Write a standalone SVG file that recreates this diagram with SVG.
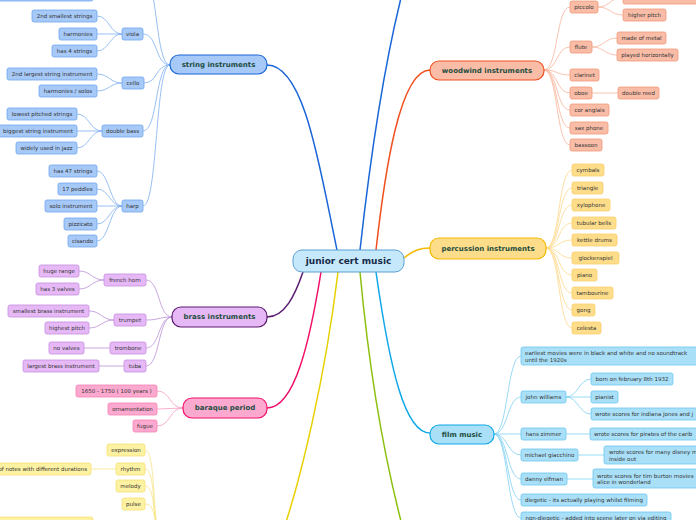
<svg xmlns="http://www.w3.org/2000/svg" width="696" height="520" viewBox="0 0 696 520">
<style>
text{font-family:"DejaVu Sans","Liberation Sans",sans-serif;fill:#333;font-size:5.5px;text-anchor:middle;dominant-baseline:central}
.t{font-size:7px;font-weight:bold;fill:#1e4d3f}
.c{font-size:9px;font-weight:bold;fill:#17294a}
.l{text-anchor:start}
path{fill:none}
.m{stroke-width:1.5}
.s{stroke-width:0.8}
.blu rect{fill:#a6c9f7;stroke:#6fa6ee;stroke-width:0.8}
.pur rect{fill:#e6b9f6;stroke:#c58ee0;stroke-width:0.8}
.pnk rect{fill:#fca9cf;stroke:#f383b5;stroke-width:0.8}
.yel rect{fill:#fdf1a2;stroke:#f6e175;stroke-width:0.8}
.org rect{fill:#f9bca6;stroke:#f09a7a;stroke-width:0.8}
.gld rect{fill:#fddc8a;stroke:#f9cf6c;stroke-width:0.8}
.cyn rect{fill:#a9e0f8;stroke:#6dc8ef;stroke-width:0.8}
</style>
<g id="connectors">
<!-- main -->
<path class="m" stroke="#1a66d8" d="M337,250 C320,170 305,65 267,65"/>
<path class="m" stroke="#1a66d8" d="M360,250 C370,160 385,60 403,-10"/>
<path class="m" stroke="#f05020" d="M376,250 C385,170 400,70 430,70"/>
<path class="m" stroke="#f5b800" d="M404,258 C414,250 420,248 430,248"/>
<path class="m" stroke="#5a1a70" d="M303,272 C295,295 285,317 267,317"/>
<path class="m" stroke="#f0106a" d="M321,272 C310,340 295,408 267,408"/>
<path class="m" stroke="#e8d000" d="M338,272 C325,380 300,480 285,525"/>
<path class="m" stroke="#8cc010" d="M360,272 C370,380 385,460 402,525"/>
<path class="m" stroke="#10a8e8" d="M376,272 C390,370 405,433 430,433"/>
<!-- string -->
<g stroke="#7fb0f0" class="s">
<path d="M170,65 C155,65 158,-25 143,-25"/>
<path d="M170,65 C155,65 158,34 143,34"/>
<path d="M170,65 C155,65 158,83 144,83"/>
<path d="M170,65 C155,65 158,131 143,131"/>
<path d="M170,65 C155,65 158,206 143,206"/>
<path d="M122,34 C110,34 109,16 97,16"/>
<path d="M122,34 L97,34"/>
<path d="M122,34 C110,34 109,51 97,51"/>
<path d="M122,83 C110,83 109,74 97,74"/>
<path d="M122,83 C110,83 109,91 97,91"/>
<path d="M102,131 C90,131 89,114 77,114"/>
<path d="M102,131 L77,131"/>
<path d="M102,131 C90,131 89,148 77,148"/>
<path d="M122,206 C110,206 109,171 97,171"/>
<path d="M122,206 C110,206 109,189 97,189"/>
<path d="M122,206 L97,206"/>
<path d="M122,206 C110,206 109,224 97,224"/>
<path d="M122,206 C110,206 109,241 97,241"/>
</g>
<!-- brass -->
<g stroke="#bb92d6" class="s">
<path d="M172,317 C158,317 160,280 146,280"/>
<path d="M172,317 C158,317 160,320 146,320"/>
<path d="M172,317 C158,317 160,348 146,348"/>
<path d="M172,317 C158,317 160,366 146,366"/>
<path d="M104,280 C92,280 91,271 79,271"/>
<path d="M104,280 C92,280 91,289 79,289"/>
<path d="M114,320 C102,320 101,311 89,311"/>
<path d="M114,320 C102,320 101,328 89,328"/>
<path d="M110,348 L84,348"/>
<path d="M124,366 L99,366"/>
</g>
<!-- baraque -->
<g stroke="#f79cc4" class="s">
<path d="M183,408 C169,408 171,391 157,391"/>
<path d="M183,408 L157,409"/>
<path d="M183,408 C169,408 171,426 157,426"/>
</g>
<!-- yellow -->
<g stroke="#f6e48a" class="s">
<path d="M145,450 C156,450 152,520 160,540"/>
<path d="M145,469 C156,469 152,520 160,540"/>
<path d="M145,486 C156,486 152,520 160,540"/>
<path d="M145,504 C156,504 153,520 160,540"/>
<path d="M116,469 L91,469"/>
</g>
<!-- woodwind -->
<g stroke="#f8b49c" class="s">
<path d="M544,70 C558,70 556,7 570,7"/>
<path d="M544,70 C558,70 556,47 570,47"/>
<path d="M544,70 C558,70 556,75 570,75"/>
<path d="M544,70 C558,70 556,93 570,93"/>
<path d="M544,70 C558,70 556,110 570,110"/>
<path d="M544,70 C558,70 556,128 570,128"/>
<path d="M544,70 C558,70 556,145 570,145"/>
<path d="M598,7 C610,7 611,-3 623,-3"/>
<path d="M598,7 C610,7 611,15 623,15"/>
<path d="M592,47 C604,47 605,38 617,38"/>
<path d="M592,47 C604,47 605,55 617,55"/>
<path d="M592,93 L618,93"/>
</g>
<!-- percussion -->
<g stroke="#fdd88a" class="s">
<path d="M546,248 C560,248 558,170 572,170"/>
<path d="M546,248 C560,248 558,188 572,188"/>
<path d="M546,248 C560,248 558,205 572,205"/>
<path d="M546,248 C560,248 558,223 572,223"/>
<path d="M546,248 C560,248 558,240 572,240"/>
<path d="M546,248 C560,248 558,258 572,258"/>
<path d="M546,248 C560,248 558,275 572,275"/>
<path d="M546,248 C560,248 558,293 572,293"/>
<path d="M546,248 C560,248 558,310 572,310"/>
<path d="M546,248 C560,248 558,328 572,328"/>
</g>
<!-- film -->
<g stroke="#7fd0f2" class="s">
<path d="M494,434 C508,434 507,356 521,356"/>
<path d="M494,434 C508,434 507,397 521,397"/>
<path d="M494,434 L521,434"/>
<path d="M494,434 C508,434 507,455 521,455"/>
<path d="M494,434 C508,434 507,479 521,479"/>
<path d="M494,434 C508,434 507,500 521,500"/>
<path d="M494,434 C508,434 507,518 521,518"/>
<path d="M566,397 C578,397 579,379 591,379"/>
<path d="M566,397 L591,397"/>
<path d="M566,397 C578,397 579,414 591,414"/>
<path d="M566,434 L590,434"/>
<path d="M578,455 L604,455"/>
<path d="M567,479 L593,479"/>
</g>
</g>

<g id="central"><rect x="293" y="250" width="111" height="22" rx="9" fill="#c5e9fa" stroke="#5a9fd4" stroke-width="1"/><text class="c" x="348.5" y="261">junior cert music</text></g>

<!-- string instruments -->
<g id="string-instruments"><rect x="170" y="55" width="97" height="19" rx="9" fill="#a6c9f7" stroke="#1a66d8" stroke-width="1.2"/><text class="t" x="218.5" y="64.5">string instruments</text></g>
<g class="blu">
<g id="s-top"><rect x="-10" y="-12" width="103" height="13" rx="2"/></g>
<g id="viola"><rect x="122" y="28" width="21" height="12" rx="2"/><text x="132.5" y="34">viola</text></g>
<g id="viola-1"><rect x="32" y="10" width="65" height="12" rx="2"/><text x="64.5" y="16">2nd smallest strings</text></g>
<g id="viola-2"><rect x="59" y="28" width="38" height="12" rx="2"/><text x="78" y="34">harmonies</text></g>
<g id="viola-3"><rect x="52" y="45" width="45" height="12" rx="2"/><text x="74.5" y="51">has 4 strings</text></g>
<g id="cello"><rect x="122" y="77" width="22" height="12" rx="2"/><text x="133" y="83">cello</text></g>
<g id="cello-1"><rect x="7" y="68" width="90" height="12" rx="2"/><text x="52" y="74">2nd largest string instrument</text></g>
<g id="cello-2"><rect x="39" y="85" width="58" height="12" rx="2"/><text x="68" y="91">harmonies / solos</text></g>
<g id="double-bass"><rect x="102" y="125" width="41" height="12" rx="2"/><text x="122.5" y="131">double bass</text></g>
<g id="db-1"><rect x="7" y="108" width="70" height="12" rx="2"/><text x="42" y="114">lowest pitched strings</text></g>
<g id="db-2"><rect x="-1" y="125" width="78" height="12" rx="2"/><text x="38" y="131">biggest string instrument</text></g>
<g id="db-3"><rect x="16" y="142" width="61" height="12" rx="2"/><text x="46.5" y="148">widely used in jazz</text></g>
<g id="harp"><rect x="122" y="200" width="21" height="12" rx="2"/><text x="132.5" y="206">harp</text></g>
<g id="harp-1"><rect x="49" y="165" width="48" height="12" rx="2"/><text x="73" y="171">has 47 strings</text></g>
<g id="harp-2"><rect x="58" y="183" width="39" height="12" rx="2"/><text x="77.5" y="189">17 peddles</text></g>
<g id="harp-3"><rect x="45" y="200" width="52" height="12" rx="2"/><text x="71" y="206">solo instrument</text></g>
<g id="harp-4"><rect x="64" y="218" width="33" height="12" rx="2"/><text x="80.5" y="224">pizzicato</text></g>
<g id="harp-5"><rect x="68" y="235" width="29" height="12" rx="2"/><text x="82.5" y="241">cisando</text></g>
</g>

<!-- brass -->
<g id="brass-instruments"><rect x="172" y="307" width="95" height="20" rx="9" fill="#e6b9f6" stroke="#5a1a70" stroke-width="1.2"/><text class="t" x="219.5" y="317">brass instruments</text></g>
<g class="pur">
<g id="french-horn"><rect x="104" y="274" width="42" height="12" rx="2"/><text x="125" y="280">french horn</text></g>
<g id="fh-1"><rect x="39" y="265" width="40" height="12" rx="2"/><text x="59" y="271">huge range</text></g>
<g id="fh-2"><rect x="36" y="283" width="43" height="12" rx="2"/><text x="57.5" y="289">has 3 valves</text></g>
<g id="trumpet"><rect x="114" y="314" width="32" height="12" rx="2"/><text x="130" y="320">trumpet</text></g>
<g id="tr-1"><rect x="8" y="305" width="81" height="12" rx="2"/><text x="48.5" y="311">smallest brass instrument</text></g>
<g id="tr-2"><rect x="45" y="322" width="44" height="12" rx="2"/><text x="67" y="328">highest pitch</text></g>
<g id="trombone"><rect x="110" y="342" width="36" height="12" rx="2"/><text x="128" y="348">trombone</text></g>
<g id="tb-1"><rect x="49" y="342" width="35" height="12" rx="2"/><text x="66.5" y="348">no valves</text></g>
<g id="tuba"><rect x="124" y="360" width="22" height="12" rx="2"/><text x="135" y="366">tuba</text></g>
<g id="tu-1"><rect x="23" y="360" width="76" height="12" rx="2"/><text x="61" y="366">largest brass instrument</text></g>
</g>

<!-- baraque -->
<g id="baraque-period"><rect x="183" y="398" width="84" height="20" rx="9" fill="#fca9cf" stroke="#f0106a" stroke-width="1.2"/><text class="t" x="225" y="408">baraque period</text></g>
<g class="pnk">
<g id="bp-1"><rect x="76" y="385" width="81" height="12" rx="2"/><text x="116.5" y="391">1650 - 1750 ( 100 years )</text></g>
<g id="bp-2"><rect x="108" y="403" width="49" height="12" rx="2"/><text x="132.5" y="409">ornamentation</text></g>
<g id="bp-3"><rect x="133" y="420" width="24" height="12" rx="2"/><text x="145" y="426">fugue</text></g>
</g>

<!-- yellow -->
<g class="yel">
<g id="expression"><rect x="107" y="444" width="38" height="12" rx="2"/><text x="126" y="450">expression</text></g>
<g id="rhythm"><rect x="116" y="463" width="29" height="12" rx="2"/><text x="130.5" y="469">rhythm</text></g>
<g id="rhythm-1"><rect x="-30" y="463" width="121" height="12" rx="2"/><text x="87" y="469" style="text-anchor:end">of notes with different durations</text></g>
<g id="melody"><rect x="116" y="480" width="29" height="12" rx="2"/><text x="130.5" y="486">melody</text></g>
<g id="pulse"><rect x="122" y="498" width="23" height="12" rx="2"/><text x="133.5" y="504">pulse</text></g>
<g id="y-bottom"><rect x="-10" y="517" width="103" height="12" rx="2"/></g>
</g>

<!-- woodwind -->
<g id="woodwind-instruments"><rect x="430" y="61" width="114" height="19" rx="9" fill="#f9bca6" stroke="#f05020" stroke-width="1.2"/><text class="t" x="487" y="70.5">woodwind instruments</text></g>
<g class="org">
<g id="piccolo"><rect x="570" y="1" width="28" height="12" rx="2"/><text x="584" y="7">piccolo</text></g>
<g id="pc-1"><rect x="623" y="-9" width="80" height="13" rx="2"/></g>
<g id="pc-2"><rect x="623" y="9" width="43" height="12" rx="2"/><text x="644.5" y="15">higher pitch</text></g>
<g id="flute"><rect x="570" y="41" width="22" height="12" rx="2"/><text x="581" y="47">flute</text></g>
<g id="fl-1"><rect x="617" y="32" width="49" height="12" rx="2"/><text x="641.5" y="38">made of metal</text></g>
<g id="fl-2"><rect x="617" y="49" width="61" height="12" rx="2"/><text x="647.5" y="55">played horizontally</text></g>
<g id="clarinet"><rect x="570" y="69" width="29" height="12" rx="2"/><text x="584.5" y="75">clarinet</text></g>
<g id="oboe"><rect x="570" y="87" width="22" height="12" rx="2"/><text x="581" y="93">oboe</text></g>
<g id="ob-1"><rect x="618" y="87" width="41" height="12" rx="2"/><text x="638.5" y="93">double reed</text></g>
<g id="cor-anglais"><rect x="570" y="104" width="39" height="12" rx="2"/><text x="589.5" y="110">cor anglais</text></g>
<g id="sax-phone"><rect x="570" y="122" width="38" height="12" rx="2"/><text x="589" y="128">sax phone</text></g>
<g id="bassoon"><rect x="570" y="139" width="32" height="12" rx="2"/><text x="586" y="145">bassoon</text></g>
</g>

<!-- percussion -->
<g id="percussion-instruments"><rect x="430" y="238" width="116" height="21" rx="9" fill="#fddc8a" stroke="#f5b800" stroke-width="1.2"/><text class="t" x="488" y="248.5">percussion instruments</text></g>
<g class="gld">
<g id="cymbals"><rect x="572" y="164" width="32" height="12" rx="2"/><text x="588" y="170">cymbals</text></g>
<g id="triangle"><rect x="572" y="182" width="31" height="12" rx="2"/><text x="587.5" y="188">triangle</text></g>
<g id="xylophone"><rect x="572" y="199" width="38" height="12" rx="2"/><text x="591" y="205">xylophone</text></g>
<g id="tubular-bells"><rect x="572" y="217" width="44" height="12" rx="2"/><text x="594" y="223">tubular bells</text></g>
<g id="kettle-drums"><rect x="572" y="234" width="45" height="12" rx="2"/><text x="594.5" y="240">kettle drums</text></g>
<g id="glockenspiel"><rect x="572" y="252" width="47" height="12" rx="2"/><text x="595.5" y="258">glockenspiel</text></g>
<g id="piano"><rect x="572" y="269" width="25" height="12" rx="2"/><text x="584.5" y="275">piano</text></g>
<g id="tambourine"><rect x="572" y="287" width="41" height="12" rx="2"/><text x="592.5" y="293">tambourine</text></g>
<g id="gong"><rect x="572" y="304" width="23" height="12" rx="2"/><text x="583.5" y="310">gong</text></g>
<g id="celesta"><rect x="572" y="322" width="29" height="12" rx="2"/><text x="586.5" y="328">celesta</text></g>
</g>

<!-- film -->
<g id="film-music"><rect x="430" y="425" width="64" height="19" rx="9" fill="#a9e0f8" stroke="#10a8e8" stroke-width="1.2"/><text class="t" x="462" y="434.5">film music</text></g>
<g class="cyn">
<g id="f-earliest"><rect x="521" y="347" width="190" height="18" rx="2"/><text class="l" x="525" y="353">earliest movies were in black and white and no soundtrack</text><text class="l" x="525" y="359.5">until the 1920s</text></g>
<g id="john-williams"><rect x="521" y="391" width="45" height="12" rx="2"/><text x="543.5" y="397">john williams</text></g>
<g id="jw-1"><rect x="591" y="373" width="82" height="12" rx="2"/><text x="632" y="379">born on february 8th 1932</text></g>
<g id="jw-2"><rect x="591" y="391" width="27" height="12" rx="2"/><text x="604.5" y="397">pianist</text></g>
<g id="jw-3"><rect x="591" y="408" width="120" height="12" rx="2"/><text class="l" x="595" y="414">wrote scores for indiana jones and j</text></g>
<g id="hans-zimmer"><rect x="521" y="428" width="45" height="12" rx="2"/><text x="543.5" y="434">hans zimmer</text></g>
<g id="hz-1"><rect x="590" y="428" width="120" height="12" rx="2"/><text class="l" x="594" y="434">wrote scores for pirates of the carib</text></g>
<g id="michael-giacchino"><rect x="521" y="449" width="57" height="12" rx="2"/><text x="549.5" y="455">michael giacchino</text></g>
<g id="mg-1"><rect x="604" y="446" width="100" height="18" rx="2"/><text class="l" x="609" y="452">wrote scores for many disney m</text><text class="l" x="609" y="458.5">inside out</text></g>
<g id="danny-elfman"><rect x="521" y="473" width="46" height="12" rx="2"/><text x="544" y="479">danny elfman</text></g>
<g id="de-1"><rect x="593" y="469" width="110" height="19" rx="2"/><text class="l" x="597" y="475.5">wrote scores for tim burton movies</text><text class="l" x="597" y="482">alice in wonderland</text></g>
<g id="diegetic"><rect x="521" y="494" width="126" height="12" rx="2"/><text x="584" y="500">diegetic - its actually playing whilst filming</text></g>
<g id="non-diegetic"><rect x="521" y="512" width="150" height="12" rx="2"/><text x="596" y="518">non-diegetic - added into scene later on via editing</text></g>
</g>
</svg>
